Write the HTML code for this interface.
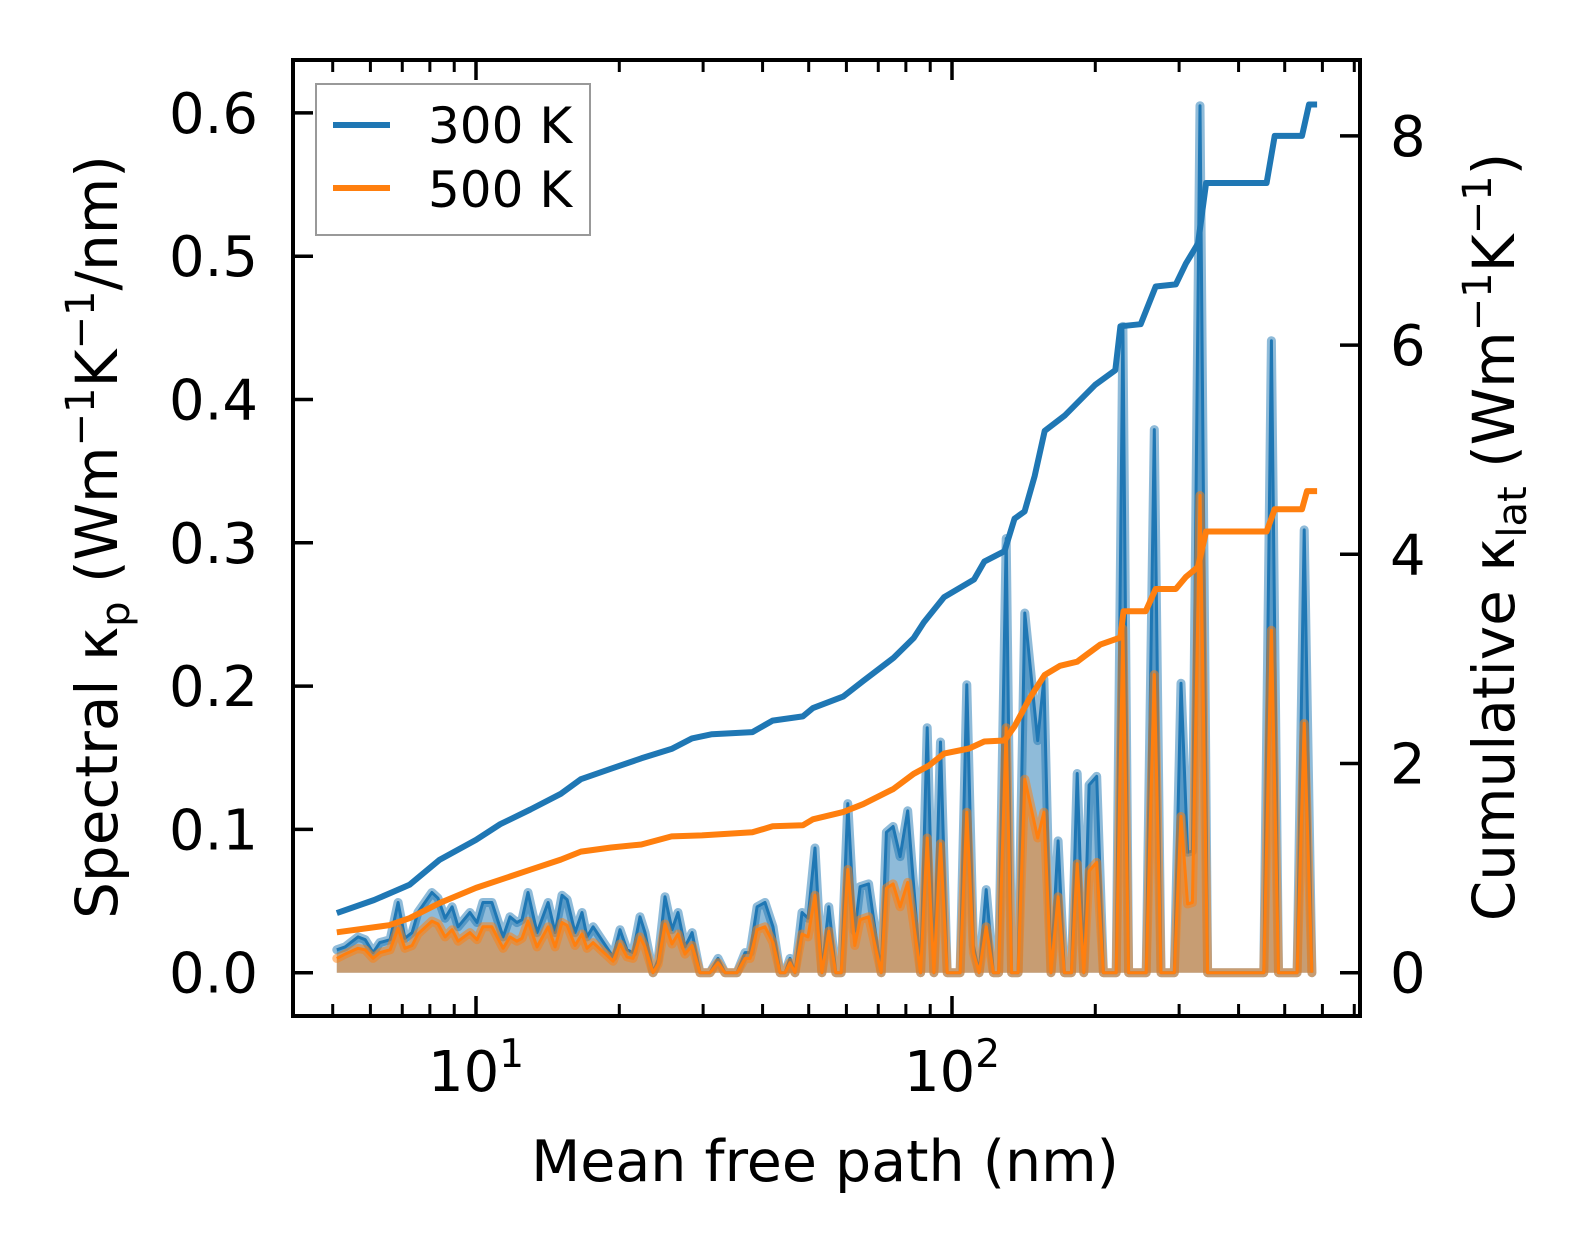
<!DOCTYPE html>
<html><head><meta charset="utf-8"><style>
html,body{margin:0;padding:0;background:#fff;}
svg{display:block;font-family:"DejaVu Sans","Liberation Sans",sans-serif;}
</style></head><body>
<svg id="chart" width="1586" height="1254" viewBox="0 0 1586 1254" xmlns="http://www.w3.org/2000/svg">
<rect width="1586" height="1254" fill="#fff"/>
<g id="plot"></g>
<g id="axes"></g>
<text x="825" y="1181" font-size="57" text-anchor="middle">Mean free path (nm)</text>
<text transform="translate(117,537) rotate(-90)" font-size="58" text-anchor="middle">Spectral κ<tspan font-size="40" dy="12">p</tspan><tspan dy="-12"> (Wm</tspan><tspan font-size="40" dy="-23">−1</tspan><tspan dy="23">K</tspan><tspan font-size="40" dy="-23">−1</tspan><tspan dy="23">/nm)</tspan></text>
<text transform="translate(1514,537) rotate(-90)" font-size="58" text-anchor="middle">Cumulative κ<tspan font-size="40" dy="12">lat</tspan><tspan dy="-12"> (Wm</tspan><tspan font-size="40" dy="-23">−1</tspan><tspan dy="23">K</tspan><tspan font-size="40" dy="-23">−1</tspan><tspan dy="23">)</tspan></text>
<g>
<rect x="316" y="84" width="274" height="151" fill="#fff" stroke="#999" stroke-width="2"/>
<line x1="333" y1="125" x2="390" y2="125" stroke="#1f77b4" stroke-width="6"/>
<text x="428" y="143" font-size="50">300 K</text>
<line x1="333" y1="188" x2="390" y2="188" stroke="#ff7f0e" stroke-width="6"/>
<text x="428" y="207" font-size="50">500 K</text>
</g>
</svg>
<script>
// ---- data ----
const specMfp = [5.1,5.31,5.65,5.85,6.08,6.28,6.60,6.86,7.09,7.34,7.55,8.08,8.32,8.61,8.91,9.17,9.71,10.05,10.34,10.80,11.40,11.79,12.19,12.49,12.86,13.43,14.17,14.66,15.16,15.54,16.14,16.70,17.11,17.62,19.41,20.07,20.76,21.37,22.11,22.65,23.54,24.13,24.95,25.81,26.57,27.49,28.44,29.55,31.01,32.24,33.35,35.35,36.75,37.65,38.95,40.48,42.07,43.53,44.60,45.68,46.80,48.41,49.84,51.55,53.3,55.1,57.0,58.5,60.4,62.5,64.1,66.8,71.0,72.8,75.2,77.8,80.7,85.9,88.7,91.6,94.6,97.7,104.0,107.4,110.9,114.0,118.0,122.2,125.3,130.0,133.4,137.7,142.2,151.4,156.0,161.4,167.1,172.2,178.2,183.2,189.2,194.1,201.4,208.0,221.3,228.6,235.0,255.9,266.1,274.8,293.1,302.7,312.6,319.9,331.9,344.4,451.9,468.8,485.3,530.9,549.5,570.2];
const spec300 = [.016,.018,.025,.023,.014,.021,.023,.049,.024,.028,.042,.056,.052,.038,.046,.032,.042,.035,.049,.049,.025,.039,.035,.037,.056,.028,.049,.028,.054,.051,.028,.042,.025,.032,.011,.030,.016,.014,.039,.028,0,.009,.053,.030,.042,.018,.028,0,0,.010,0,0,.014,.014,.046,.049,.032,0,0,.010,0,.042,.038,.087,0,.046,0,0,.118,.029,.060,.062,0,.098,.102,.081,.113,0,.171,0,.161,0,0,.201,.019,0,.058,0,0,.303,0,0,.251,.162,.205,0,.092,0,0,.139,0,.131,.137,0,0,.451,0,0,.379,0,0,.202,.084,.085,.605,0,0,.441,0,0,.309,0];
const spec500 = [.010,.013,.017,.016,.010,.014,.016,.031,.017,.019,.027,.036,.034,.025,.030,.022,.028,.023,.032,.032,.017,.025,.022,.024,.036,.018,.032,.018,.035,.033,.019,.027,.017,.021,.008,.020,.011,.010,.025,.018,0,.006,.034,.020,.027,.013,.019,0,0,.007,0,0,.010,.010,.030,.032,.021,0,0,.007,0,.027,.025,.054,0,.029,0,0,.072,.019,.037,.039,0,.059,.062,.046,.063,0,.094,0,.090,0,0,.112,.014,0,.032,0,0,.171,0,0,.135,.094,.112,0,.053,0,0,.076,0,.071,.077,0,0,.240,0,0,.208,0,0,.109,.048,.049,.333,0,0,.239,0,0,.174,0];
const cum300Mfp = [5.1,6.11,7.25,8.39,10,11.24,13.01,15.07,16.61,19.22,22.26,25.76,28.41,31.32,38.07,41.98,48.58,51.02,59.06,65.12,75.37,83.1,87.3,96.2,111.3,116.9,128.9,135.3,142.1,149.2,156.6,172.8,199.9,220.3,225.8,249.1,267.9,295.3,310.0,328.7,341.8,458.1,476.4,543.5,562.3,584.7];
const cum300 = [.57,.695,.84,1.08,1.27,1.42,1.56,1.71,1.85,1.95,2.05,2.14,2.24,2.28,2.30,2.41,2.45,2.53,2.64,2.79,3.01,3.20,3.35,3.59,3.76,3.93,4.03,4.34,4.41,4.75,5.18,5.33,5.62,5.76,6.18,6.20,6.56,6.58,6.78,6.97,7.55,7.55,8.00,8.00,8.30,8.30];
const cum500Mfp = [5.1,6.57,7.25,8.39,10,11.24,13.01,15.07,16.61,19.22,22.26,25.76,29.83,38.07,41.98,48.58,51.02,59.06,65.12,75.37,83.1,89.4,96.2,108.6,116.9,128.9,135.3,145.6,156.6,168.6,183.2,190.5,204.9,225.8,229.2,255.2,267.9,295.3,310.0,328.7,341.8,458.1,476.4,543.5,557.0,584.7];
const cum500 = [.386,.454,.521,.666,.811,.888,.985,1.081,1.158,1.197,1.226,1.303,1.313,1.342,1.400,1.409,1.467,1.535,1.612,1.757,1.902,1.979,2.095,2.143,2.210,2.220,2.355,2.625,2.847,2.934,2.973,3.031,3.137,3.205,3.456,3.456,3.668,3.668,3.784,3.880,4.218,4.218,4.431,4.431,4.604,4.604];
const leftTicks = [0,0.1,0.2,0.3,0.4,0.5,0.6];
const leftTickLabels = ["0.0","0.1","0.2","0.3","0.4","0.5","0.6"];
const rightTicks = [0,2,4,6,8];
const rightTickLabels = ["0","2","4","6","8"];
const xMajor = [10,100];
const xMajorExp = ["1","2"];
const xMinor = [5,6,7,8,9,20,30,40,50,60,70,80,90,200,300,400,500,600,700];

// ---- axes functions ----
const L=293,R=1360,T=60,B=1016;
function xs(m){return 476*Math.log10(m);}
function yl(v){return 972.7-v*1433;}
function yr(v){return 972.7-v*104.6;}
const NS='http://www.w3.org/2000/svg';
function mk(tag,attrs,parent){const e=document.createElementNS(NS,tag);for(const k in attrs)e.setAttribute(k,attrs[k]);parent.appendChild(e);return e;}
const plot=document.getElementById('plot'), axes=document.getElementById('axes');

function pts(xa,ya,fy){return xa.map((m,i)=>xs(m).toFixed(1)+','+fy(ya[i]).toFixed(1)).join(' ');}
function spectral(vals,color,name){
  const p=pts(specMfp,vals,yl);
  const x0=xs(specMfp[0]).toFixed(1), x1=xs(specMfp[specMfp.length-1]).toFixed(1), y0=yl(0).toFixed(1);
  const f=mk('polygon',{points:x0+','+y0+' '+p+' '+x1+','+y0,fill:color,'fill-opacity':0.5},plot);
  
  
  const h=mk('polyline',{points:p,fill:'none',stroke:color,'stroke-opacity':0.5,'stroke-width':9,'stroke-linejoin':'round','stroke-linecap':'round'},plot);
  
  
  const l=mk('polyline',{points:p,fill:'none',stroke:color,'stroke-width':3,'stroke-linejoin':'round'},plot);
  
  
}
spectral(spec300,'#1f77b4','spectral-300k');
spectral(spec500,'#ff7f0e','spectral-500k');
function cum(xa,ya,color,name){
  const l=mk('polyline',{points:pts(xa,ya,yr),fill:'none',stroke:color,'stroke-width':6,'stroke-linejoin':'round'},plot);
  
  
}
cum(cum300Mfp,cum300,'#1f77b4','cumulative-300k-line');
cum(cum500Mfp,cum500,'#ff7f0e','cumulative-500k-line');

const sp=mk('rect',{x:L,y:T,width:R-L,height:B-T,fill:'none',stroke:'#000','stroke-width':4},axes);


xMajor.forEach((m,i)=>{
  const x=xs(m);
  const a=mk('line',{x1:x,y1:B,x2:x,y2:B-20,stroke:'#000','stroke-width':3.5},axes);
  
  
  const b=mk('line',{x1:x,y1:T,x2:x,y2:T+20,stroke:'#000','stroke-width':3.5},axes);
  
  
  const t=mk('text',{x:x,y:1091,'font-size':56,'text-anchor':'middle'},axes);
  
  
  t.textContent='10';
  const s=mk('tspan',{'font-size':39,dy:-24},t);
  s.textContent=xMajorExp[i];
});
xMinor.forEach(m=>{
  const x=xs(m);
  const a=mk('line',{x1:x,y1:B,x2:x,y2:B-12,stroke:'#000','stroke-width':3},axes);
  
  
  const b=mk('line',{x1:x,y1:T,x2:x,y2:T+12,stroke:'#000','stroke-width':3},axes);
  
  
});
leftTicks.forEach((v,i)=>{
  const y=yl(v);
  const a=mk('line',{x1:L,y1:y,x2:L+20,y2:y,stroke:'#000','stroke-width':3.5},axes);
  
  
  const t=mk('text',{x:258,y:y+20,'font-size':56,'text-anchor':'end'},axes);
  
  
  t.textContent=leftTickLabels[i];
});
rightTicks.forEach((v,i)=>{
  const y=yr(v);
  const a=mk('line',{x1:R,y1:y,x2:R-20,y2:y,stroke:'#000','stroke-width':3.5},axes);
  
  
  const t=mk('text',{x:1390,y:y+20,'font-size':56,'text-anchor':'start'},axes);
  
  
  t.textContent=rightTickLabels[i];
});
</script>
</body></html>
